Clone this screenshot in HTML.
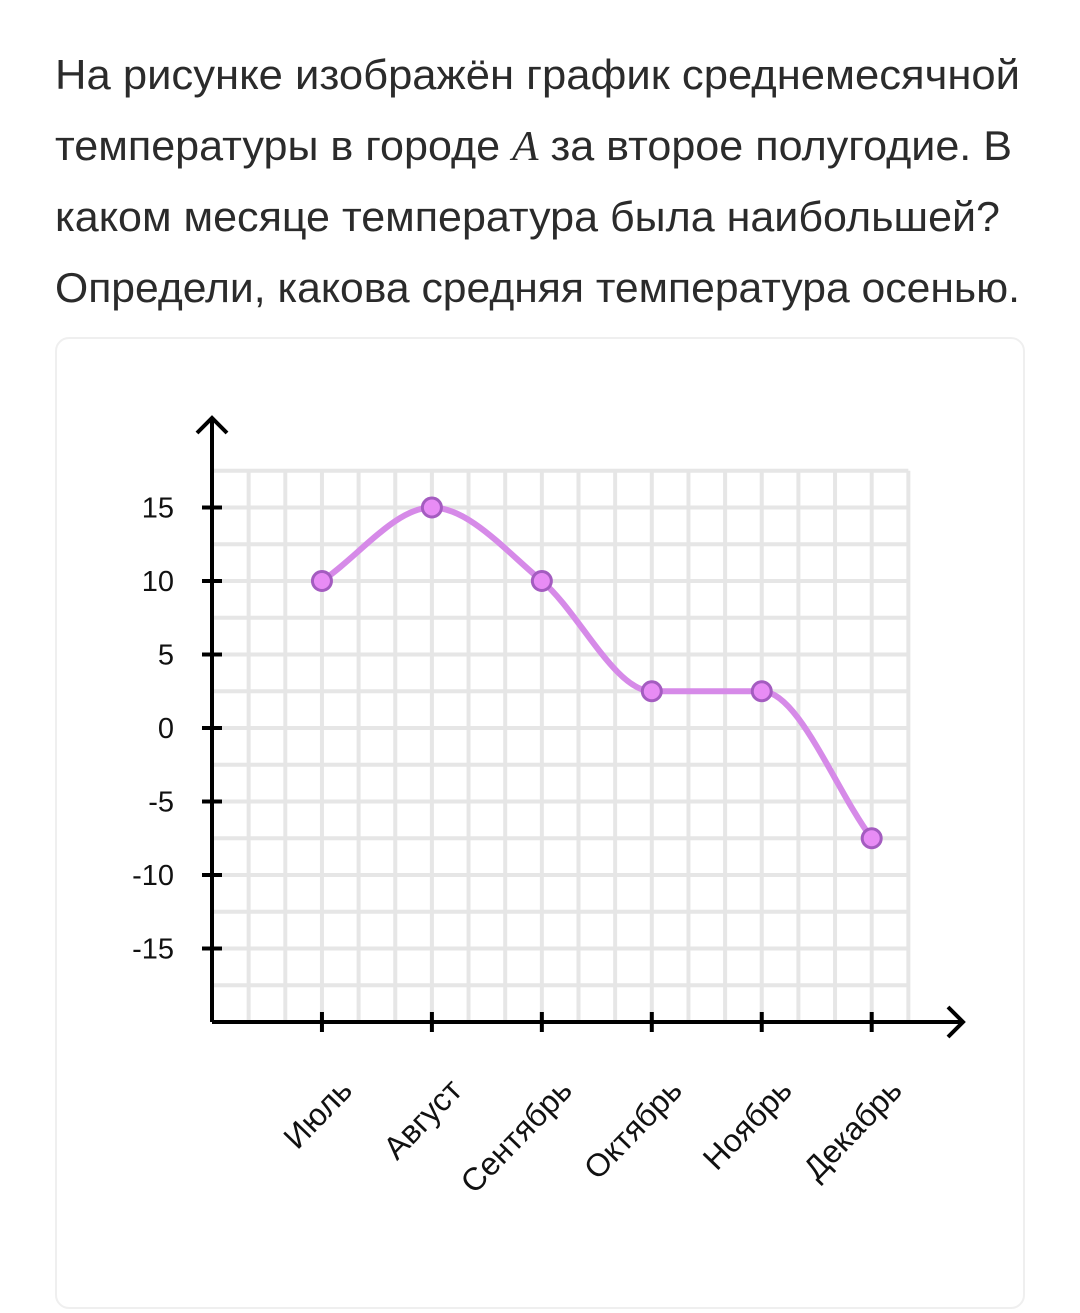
<!DOCTYPE html>
<html><head><meta charset="utf-8"><style>
body{margin:0;width:1080px;height:1313px;background:#fff;overflow:hidden;font-family:"Liberation Sans","DejaVu Sans",sans-serif}
.q{position:absolute;left:55px;top:40px;font-size:42px;line-height:70.5px;color:#2b2b2b}
.q span{display:block;white-space:nowrap;transform-origin:0 50%;width:max-content}
.card{position:absolute;left:55px;top:337px;width:970px;height:972px;border:2px solid #efefef;border-radius:14px;box-sizing:border-box}
svg{position:absolute;left:0;top:0}
</style></head><body>
<div class="q">
<span data-w="965">На рисунке изображён график среднемесячной</span>
<span data-w="957">температуры в городе <i style="font-family:'Liberation Serif',serif">A</i> за второе полугодие. В</span>
<span data-w="945">каком месяце температура была наибольшей?</span>
<span data-w="965">Определи, какова средняя температура осенью.</span>
</div>
<div class="card"></div>
<svg width="1080" height="1313">
<g id="grid"></g><g id="axes"></g><g id="series"></g><g id="labels"></g>
</svg>
<script>
document.querySelectorAll('.q span').forEach(s=>{const w=s.getBoundingClientRect().width;s.style.transform=`scaleX(${(+s.dataset.w)/w})`;});
const months=["Июль","Август","Сентябрь","Октябрь","Ноябрь","Декабрь"];
const temps=[10,15,10,2.5,2.5,-7.5];
const yTicks=[15,10,5,0,-5,-10,-15];
const NS="http://www.w3.org/2000/svg";
const x0=212,cell=36.65,y0=728,uPx=14.7;
const X=i=>x0+cell*3*(i+1);
const Y=v=>y0-v*uPx;
function mk(t,a,p){const e=document.createElementNS(NS,t);for(const k in a)e.setAttribute(k,a[k]);p.appendChild(e);return e;}
const g=document.getElementById('grid'),ax=document.getElementById('axes'),s=document.getElementById('series'),lb=document.getElementById('labels');
const gTop=Y(17.5),gBot=Y(-20),gRight=x0+cell*19;
for(let i=1;i<=19;i++){const l=mk('line',{x1:x0+cell*i,x2:x0+cell*i,y1:gTop,y2:gBot,stroke:'#e6e6e6','stroke-width':4},g);}
for(let v=17.5;v>-20;v-=2.5){const l=mk('line',{x1:x0,x2:gRight,y1:Y(v),y2:Y(v),stroke:'#e6e6e6','stroke-width':4},g);}
const ya=mk('path',{d:`M${x0} ${gBot} V418 M197 433 L${x0} 418 L227 433`,stroke:'#000','stroke-width':4,fill:'none'},ax);

const xa=mk('path',{d:`M${x0} ${gBot} H963 M948 1007 L963 ${gBot} L948 1037`,stroke:'#000','stroke-width':4,fill:'none'},ax);

yTicks.forEach(v=>{
 const t=mk('line',{x1:x0-10,x2:x0+10,y1:Y(v),y2:Y(v),stroke:'#000','stroke-width':4},ax);
 
 const tx=mk('text',{x:174,y:Y(v)+10,'text-anchor':'end','font-size':29,fill:'#111'},lb);tx.textContent=v;
 
});
months.forEach((m,i)=>{
 const t=mk('line',{x1:X(i),x2:X(i),y1:gBot-10,y2:gBot+10,stroke:'#000','stroke-width':4},ax);
 
 const tx=mk('text',{x:0,y:0,'text-anchor':'end','font-size':32,fill:'#111',transform:`translate(${X(i)+32},1092) rotate(-46)`},lb);tx.textContent=m;
 
});
const px=temps.map((v,i)=>X(i)),py=temps.map(v=>Y(v)),n=temps.length;
const d=[],m=[];for(let i=0;i<n-1;i++)d.push((py[i+1]-py[i])/(px[i+1]-px[i]));
m[0]=d[0];m[n-1]=d[n-2];
for(let i=1;i<n-1;i++){m[i]=(d[i-1]*d[i]<=0)?0:(d[i-1]+d[i])/2;}
for(let i=0;i<n-1;i++){if(d[i]===0){m[i]=0;m[i+1]=0;continue;}const a=m[i]/d[i],b=m[i+1]/d[i],h=a*a+b*b;if(h>9){const t=3/Math.sqrt(h);m[i]=t*a*d[i];m[i+1]=t*b*d[i];}}
let p=`M${px[0]} ${py[0]}`;
for(let i=0;i<n-1;i++){const h=(px[i+1]-px[i])/3;p+=` C${px[i]+h} ${py[i]+m[i]*h} ${px[i+1]-h} ${py[i+1]-m[i+1]*h} ${px[i+1]} ${py[i+1]}`;}
const c=mk('path',{d:p,stroke:'#d68ae8','stroke-width':6,fill:'none'},s);

temps.forEach((v,i)=>{const pt=mk('circle',{cx:X(i),cy:Y(v),r:9.5,fill:'#e88cf5',stroke:'#a45cc0','stroke-width':3},s);
 });
</script>
</body></html>
